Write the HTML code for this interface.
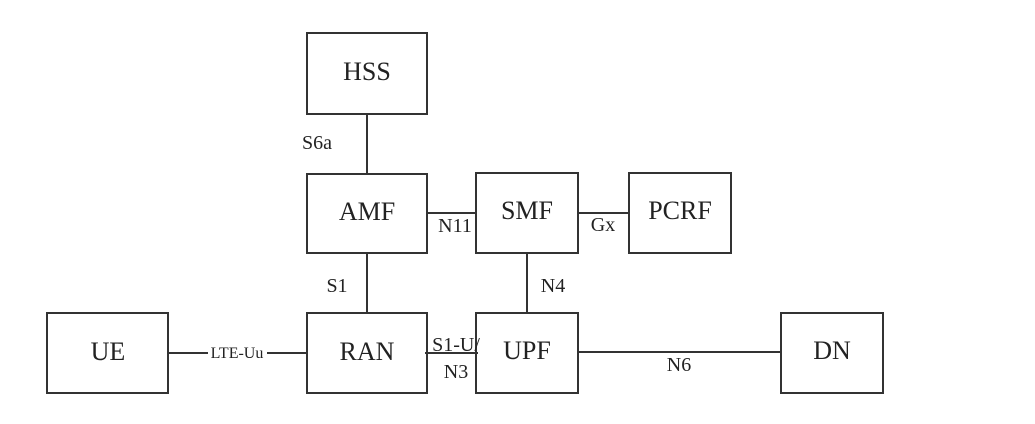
<!DOCTYPE html>
<html><head><style>
html,body{margin:0;padding:0;background:#fff;}
svg text{font-family:"Liberation Serif",serif;fill:#222;}
</style></head><body>
<svg width="1035" height="419" xmlns="http://www.w3.org/2000/svg">
<g fill="none" stroke="#333" stroke-width="2">
<rect x="307" y="33" width="120" height="81"/>
<rect x="307" y="174" width="120" height="79"/>
<rect x="307" y="313" width="120" height="80"/>
<rect x="47" y="313" width="121" height="80"/>
<rect x="476" y="173" width="102" height="80"/>
<rect x="629" y="173" width="102" height="80"/>
<rect x="476" y="313" width="102" height="80"/>
<rect x="781" y="313" width="102" height="80"/>
<line x1="367" y1="114" x2="367" y2="174"/>
<line x1="367" y1="253" x2="367" y2="313"/>
<line x1="427" y1="213" x2="476" y2="213"/>
<line x1="578" y1="213" x2="629" y2="213"/>
<line x1="527" y1="253" x2="527" y2="313"/>
<line x1="425" y1="353" x2="478" y2="353"/>
<line x1="578" y1="352" x2="781" y2="352"/>
<line x1="168" y1="353" x2="208" y2="353"/>
<line x1="267" y1="353" x2="307" y2="353"/>
</g>
<g font-size="26" text-anchor="middle">
<text x="367" y="80">HSS</text>
<text x="367" y="220">AMF</text>
<text x="367" y="360">RAN</text>
<text x="108" y="360">UE</text>
<text x="527" y="219">SMF</text>
<text x="680" y="219">PCRF</text>
<text x="527" y="359">UPF</text>
<text x="832" y="359">DN</text>
</g>
<g font-size="20" text-anchor="middle">
<text x="317" y="149">S6a</text>
<text x="337" y="292">S1</text>
<text x="455" y="232">N11</text>
<text x="603" y="231">Gx</text>
<text x="553" y="292">N4</text>
<text x="679" y="371">N6</text>
<text x="456" y="351">S1-U/</text>
<text x="456" y="378">N3</text>
<text x="237" y="358" font-size="16">LTE-Uu</text>
</g>
</svg>
</body></html>
